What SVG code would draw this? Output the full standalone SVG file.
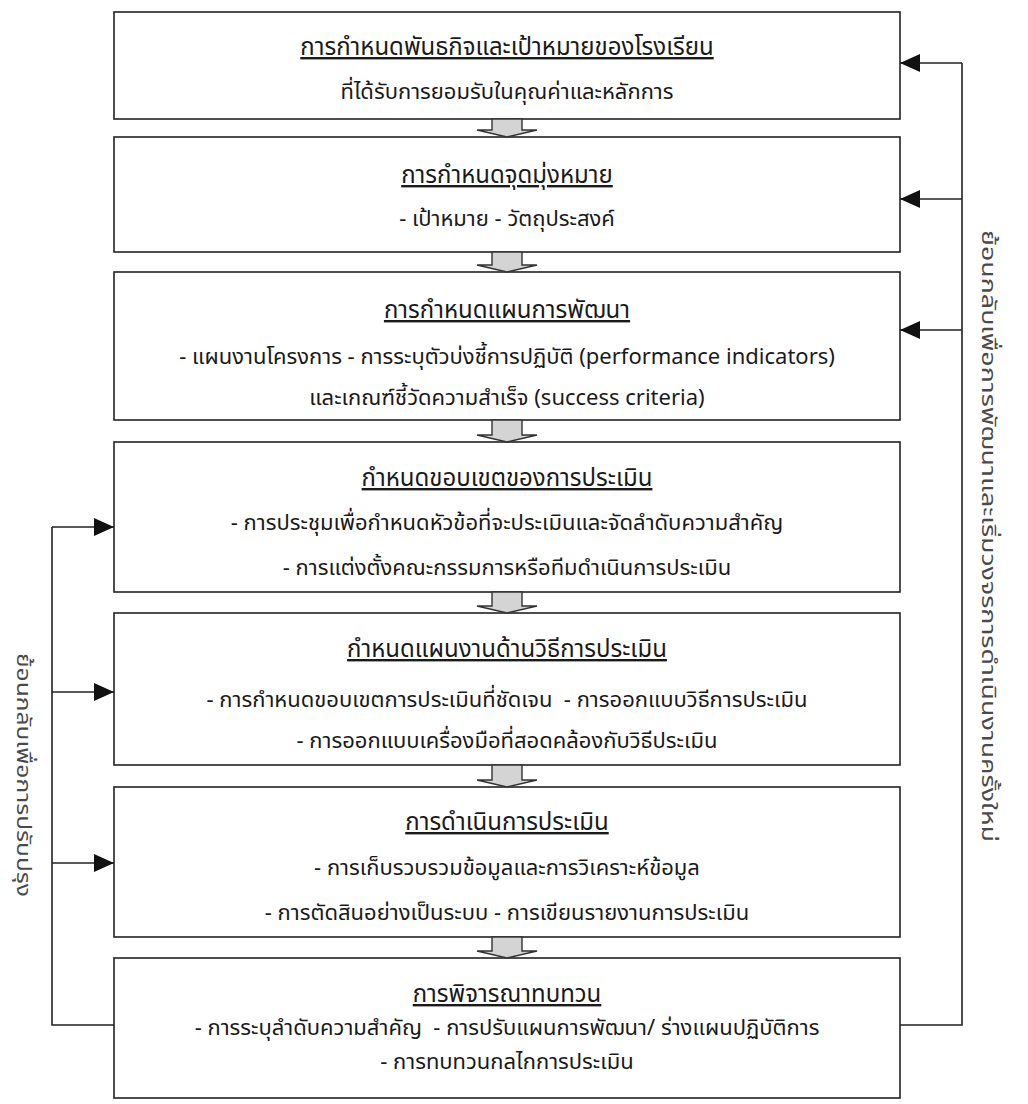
<svg xmlns="http://www.w3.org/2000/svg" width="1028" height="1104" viewBox="0 0 1028 1104">
<defs>
<style>
.box{fill:#fff;stroke:#222;stroke-width:1.6}
.t{font-family:"Noto Sans Thai","Noto Sans Thai UI","Loma","Garuda","DejaVu Sans","Noto Sans",sans-serif;font-size:22px;fill:#1a1a1a;text-anchor:middle}
.h{font-size:24px;text-decoration:underline}
.ln{fill:none;stroke:#222;stroke-width:1.6}
.blk{fill:#d4d4d4;stroke:#333;stroke-width:1.4}
.vt{font-family:"Noto Sans Thai","Noto Sans Thai UI","Loma","Garuda","DejaVu Sans","Noto Sans",sans-serif;font-size:20px;fill:#4a4a4a;text-anchor:middle}
</style>
<marker id="ah" viewBox="0 0 20 18" refX="20" refY="9" markerWidth="20" markerHeight="18" markerUnits="userSpaceOnUse" orient="auto">
<path d="M0,0 L20,9 L0,18 Z" fill="#111"/>
</marker>
</defs>
<rect width="1028" height="1104" fill="#fff"/>

<g id="n1">
<rect class="box" x="114" y="12" width="786" height="107"/>
<text class="t h" x="507" y="55">การกำหนดพันธกิจและเป้าหมายของโรงเรียน</text>
<text class="t" x="507" y="99">ที่ได้รับการยอมรับในคุณค่าและหลักการ</text>
</g>
<g id="n2">
<rect class="box" x="114" y="137" width="786" height="115"/>
<text class="t h" x="507" y="183">การกำหนดจุดมุ่งหมาย</text>
<text class="t" x="507" y="226">- เป้าหมาย - วัตถุประสงค์</text>
</g>
<g id="n3">
<rect class="box" x="114" y="272" width="786" height="148"/>
<text class="t h" x="507" y="318">การกำหนดแผนการพัฒนา</text>
<text class="t" x="507" y="364">- แผนงานโครงการ - การระบุตัวบ่งชี้การปฏิบัติ (performance indicators)</text>
<text class="t" x="507" y="405">และเกณฑ์ชี้วัดความสำเร็จ (success criteria)</text>
</g>
<g id="n4">
<rect class="box" x="114" y="442" width="786" height="150"/>
<text class="t h" x="507" y="486">กำหนดขอบเขตของการประเมิน</text>
<text class="t" x="507" y="530">- การประชุมเพื่อกำหนดหัวข้อที่จะประเมินและจัดลำดับความสำคัญ</text>
<text class="t" x="507" y="575">- การแต่งตั้งคณะกรรมการหรือทีมดำเนินการประเมิน</text>
</g>
<g id="n5">
<rect class="box" x="114" y="613" width="786" height="152"/>
<text class="t h" x="507" y="657">กำหนดแผนงานด้านวิธีการประเมิน</text>
<text class="t" x="507" y="707" xml:space="preserve">- การกำหนดขอบเขตการประเมินที่ชัดเจน  - การออกแบบวิธีการประเมิน</text>
<text class="t" x="507" y="748">- การออกแบบเครื่องมือที่สอดคล้องกับวิธีประเมิน</text>
</g>
<g id="n6">
<rect class="box" x="114" y="787" width="786" height="150"/>
<text class="t h" x="507" y="830">การดำเนินการประเมิน</text>
<text class="t" x="507" y="875">- การเก็บรวบรวมข้อมูลและการวิเคราะห์ข้อมูล</text>
<text class="t" x="507" y="920">- การตัดสินอย่างเป็นระบบ - การเขียนรายงานการประเมิน</text>
</g>
<g id="n7">
<rect class="box" x="114" y="958" width="786" height="140"/>
<text class="t h" x="507" y="1002">การพิจารณาทบทวน</text>
<text class="t" x="507" y="1035" xml:space="preserve">- การระบุลำดับความสำคัญ  - การปรับแผนการพัฒนา/ ร่างแผนปฏิบัติการ</text>
<text class="t" x="507" y="1069">- การทบทวนกลไกการประเมิน</text>
</g>

<g id="connectors">
<path class="blk" d="M492,119 L492,130 L477,130 L507,137 L537,130 L522,130 L522,119 Z"/>
<path class="blk" d="M492,252 L492,265 L477,265 L507,272 L537,265 L522,265 L522,252 Z"/>
<path class="blk" d="M492,420 L492,435 L477,435 L507,442 L537,435 L522,435 L522,420 Z"/>
<path class="blk" d="M492,592 L492,606 L477,606 L507,613 L537,606 L522,606 L522,592 Z"/>
<path class="blk" d="M492,765 L492,780 L477,780 L507,787 L537,780 L522,780 L522,765 Z"/>
<path class="blk" d="M492,937 L492,951 L477,951 L507,958 L537,951 L522,951 L522,937 Z"/>

<path class="ln" d="M900,1025 L962,1025 L962,63"/>
<line class="ln" x1="962" y1="63" x2="900" y2="63" marker-end="url(#ah)"/>
<line class="ln" x1="962" y1="199" x2="900" y2="199" marker-end="url(#ah)"/>
<line class="ln" x1="962" y1="330" x2="900" y2="330" marker-end="url(#ah)"/>

<path class="ln" d="M114,1025 L52,1025 L52,527"/>
<line class="ln" x1="52" y1="527" x2="114" y2="527" marker-end="url(#ah)"/>
<line class="ln" x1="52" y1="692" x2="114" y2="692" marker-end="url(#ah)"/>
<line class="ln" x1="52" y1="863" x2="114" y2="863" marker-end="url(#ah)"/>
</g>

<text class="vt" transform="translate(17,775) rotate(90)" textLength="244" lengthAdjust="spacingAndGlyphs">ย้อนกลับเพื่อการปรับปรุง</text>
<text class="vt" transform="translate(982,536) rotate(90)" textLength="612" lengthAdjust="spacingAndGlyphs">ย้อนกลับเพื่อการพัฒนาและเริ่มวงจรการดำเนินงานครั้งใหม่</text>
</svg>
